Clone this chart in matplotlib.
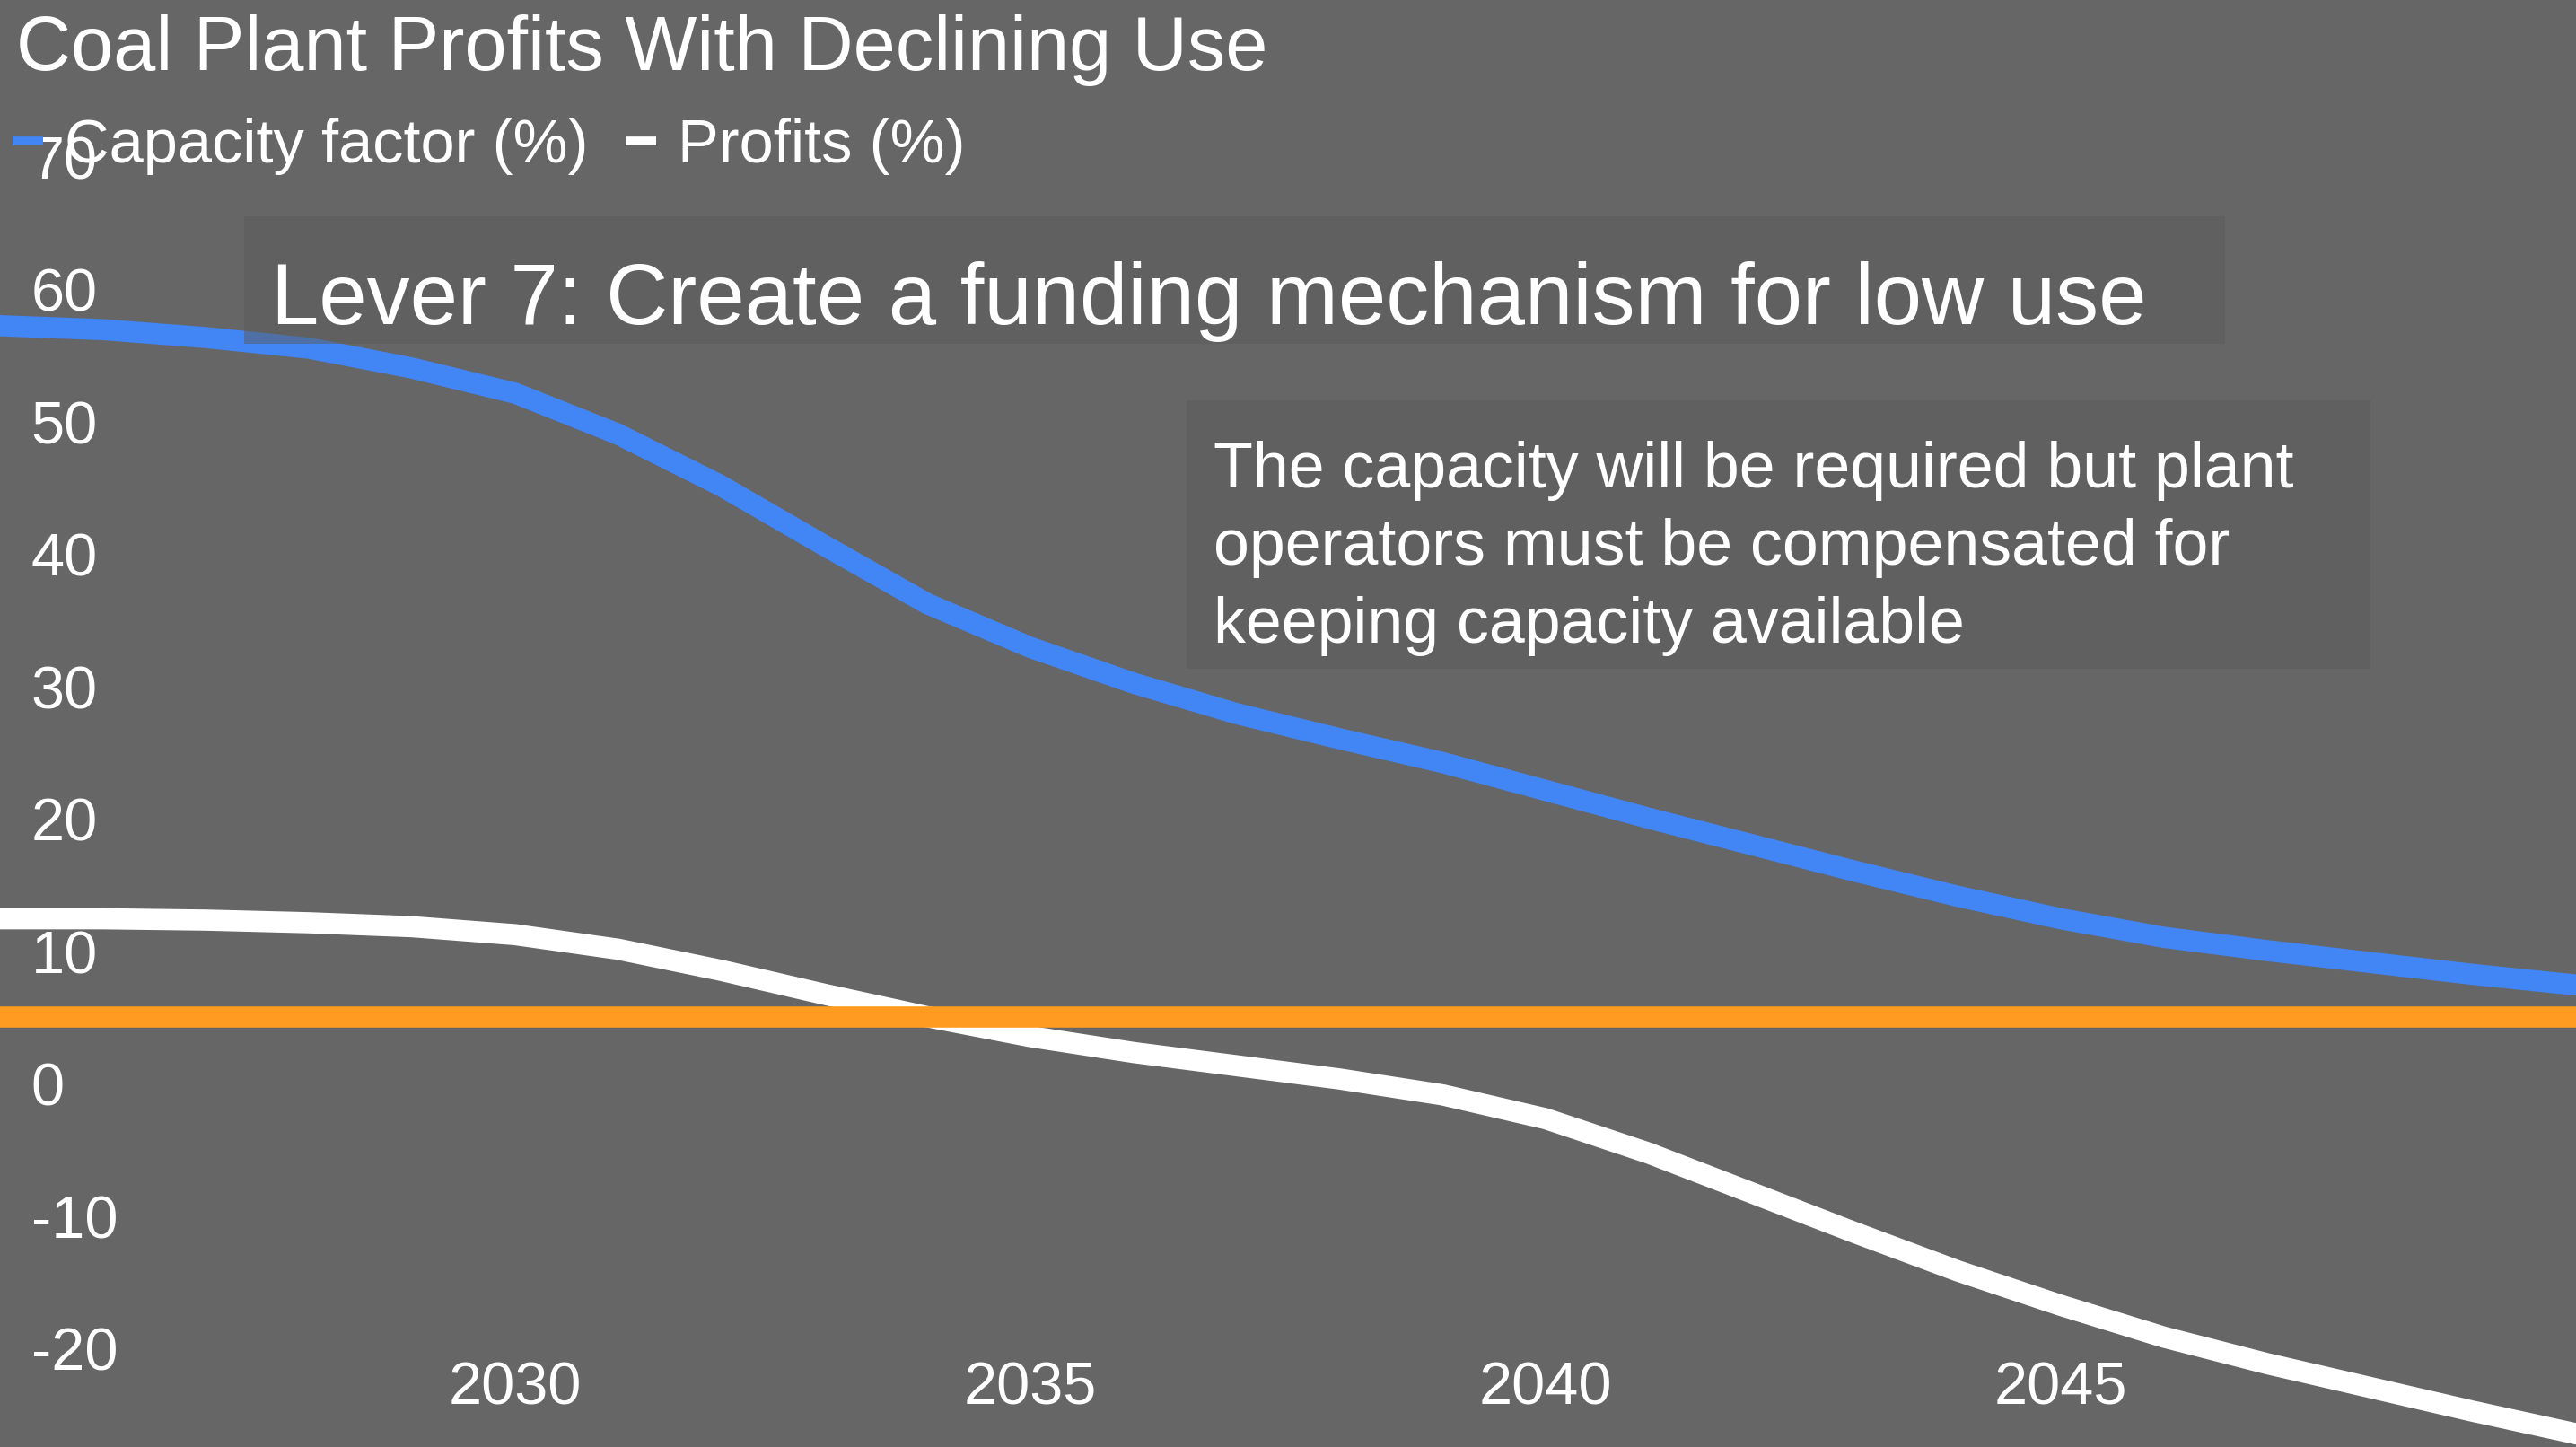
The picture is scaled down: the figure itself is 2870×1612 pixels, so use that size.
import matplotlib.pyplot as plt
from matplotlib.lines import Line2D
from matplotlib.patches import Rectangle

# Data
years = list(range(2025, 2051))
capacity_factor = [57.3, 57.0, 56.4, 55.6, 54.1, 52.2, 49.1, 45.2, 40.7, 36.3,
                   33.0, 30.3, 28.0, 26.1, 24.3, 22.2, 20.1, 18.1, 16.1, 14.2,
                   12.5, 11.1, 10.1, 9.2, 8.3, 7.5]
profits = [12.5, 12.5, 12.4, 12.2, 11.9, 11.3, 10.2, 8.6, 6.8, 5.1,
           3.6, 2.4, 1.4, 0.4, -0.8, -2.6, -5.2, -8.2, -11.2, -14.1,
           -16.7, -19.1, -21.1, -22.9, -24.7, -26.4]
breakeven = 5.1
x_ticks = [2030, 2035, 2040, 2045]
y_ticks = [-20, -10, 0, 10, 20, 30, 40, 50, 60, 70]

title = 'Coal Plant Profits With Declining Use'
lever_text = 'Lever 7: Create a funding mechanism for low use'
note_lines = ['The capacity will be required but plant',
              'operators must be compensated for',
              'keeping capacity available']

BG = '#666666'
BLUE = '#4285f4'
ORANGE = '#ff9b21'
W, H = 2870, 1612

plt.rcParams['font.family'] = ['Liberation Sans', 'DejaVu Sans']
plt.rcParams['axes.unicode_minus'] = False

fig = plt.figure(figsize=(W / 100, H / 100), dpi=100, facecolor=BG)
ax = fig.add_axes([0, 0, 1, 1], facecolor=BG)

ax.plot(years, capacity_factor, color=BLUE, lw=17, solid_joinstyle='round', zorder=2)
ax.plot(years, profits, color='white', lw=17, solid_joinstyle='round', zorder=2)
ax.axhline(breakeven, color=ORANGE, lw=17, zorder=3)

ax.set_xlim(2025, 2050)
ax.set_ylim(-27.4, 81.9)
for s in ax.spines.values():
    s.set_visible(False)

ax.set_xticks(x_ticks)
ax.set_yticks(y_ticks)
ax.tick_params(axis='y', direction='in', length=0, pad=-25, labelsize=48, labelcolor='white')
ax.tick_params(axis='x', direction='in', length=0, pad=-34, labelsize=48, labelcolor='white')
plt.setp(ax.get_yticklabels(), ha='left')
plt.setp(ax.get_xticklabels(), va='baseline')

# Title and legend
fig.text(18 / W, 1 - 78 / H, title, color='white', fontsize=61, va='baseline')
handles = [Line2D([], [], color=BLUE, lw=7, solid_capstyle='butt'),
           Line2D([], [], color='white', lw=7, solid_capstyle='butt')]
fig.legend(handles, ['Capacity factor (%)', 'Profits (%)'], loc='center left',
           bbox_to_anchor=(14 / W, 1 - 163 / H), ncol=2, frameon=False,
           fontsize=49.4, labelcolor='white', handlelength=0.5, handletextpad=0.35,
           columnspacing=0.6, borderpad=0, borderaxespad=0)

# Annotation boxes
box_kw = dict(transform=fig.transFigure, facecolor='#5c5c5c', alpha=0.5,
              edgecolor='none', zorder=4)
fig.patches.append(Rectangle((272 / W, 1 - 383 / H), (2479 - 272) / W, (383 - 241) / H, **box_kw))
fig.patches.append(Rectangle((1322 / W, 1 - 745 / H), (2641 - 1322) / W, (745 - 446) / H, **box_kw))

fig.text(302 / W, 1 - 361 / H, lever_text, color='white', fontsize=69, va='baseline', zorder=5)
for i, line in enumerate(note_lines):
    fig.text(1352 / W, 1 - (543 + i * 86.5) / H, line, color='white', fontsize=51.7,
             va='baseline', zorder=5)

fig.savefig('out.png', dpi=100, facecolor=BG)
